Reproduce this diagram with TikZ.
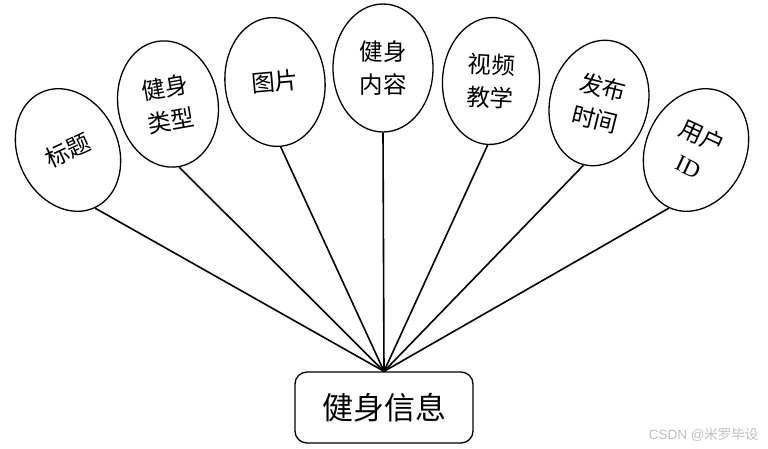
\documentclass[tikz,border=0pt]{standalone}
\usepackage{fontspec}
\setmainfont{Liberation Serif}
\newfontfamily\cjk{Noto Sans CJK SC}
\usetikzlibrary{shapes.geometric}
\begin{document}
\begin{tikzpicture}[x=1pt,y=-1pt,
  attr/.style={draw=black, line width=1.3pt, ellipse, inner sep=0pt, minimum width=100pt, minimum height=127pt, align=center, font=\cjk\fontsize{23.5}{33}\selectfont},
  ent/.style={draw=black, line width=1.3pt, rounded corners=12pt, minimum width=178pt, minimum height=71pt, inner sep=0pt, font=\cjk\fontsize{31}{34}\selectfont},
  link/.style={line width=1.6pt}]
\useasboundingbox (0,0) rectangle (768,448);
\node[ent] (box) at (384,407.5) {健身信息};
\node[attr, rotate=25] (a1) at (68,150) {标题};
\node[attr, rotate=10] (a2) at (168,104) {健身\\类型};
\node[attr, rotate=5, minimum height=129pt] (a3) at (275,82) {图片};
\node[attr, minimum height=128pt] (a4) at (383,68) {健身\\内容};
\node[attr, rotate=-3, minimum width=97pt] (a5) at (491,81) {视频\\教学};
\node[attr, rotate=-14, minimum width=98pt] (a6) at (599,103) {发布\\时间};
\node[attr, rotate=-25] (a7) at (696,150) {用户\\\rmfamily ID};
\foreach \i in {1,...,7} \draw[link] (a\i.south) -- (box.north);
\node[text=black!25, font=\fontspec{Liberation Sans}\fontsize{13.5}{15}\selectfont, anchor=east] (wm) at (762,435) {CSDN @{\cjk 米罗毕设}};
\end{tikzpicture}
\end{document}
